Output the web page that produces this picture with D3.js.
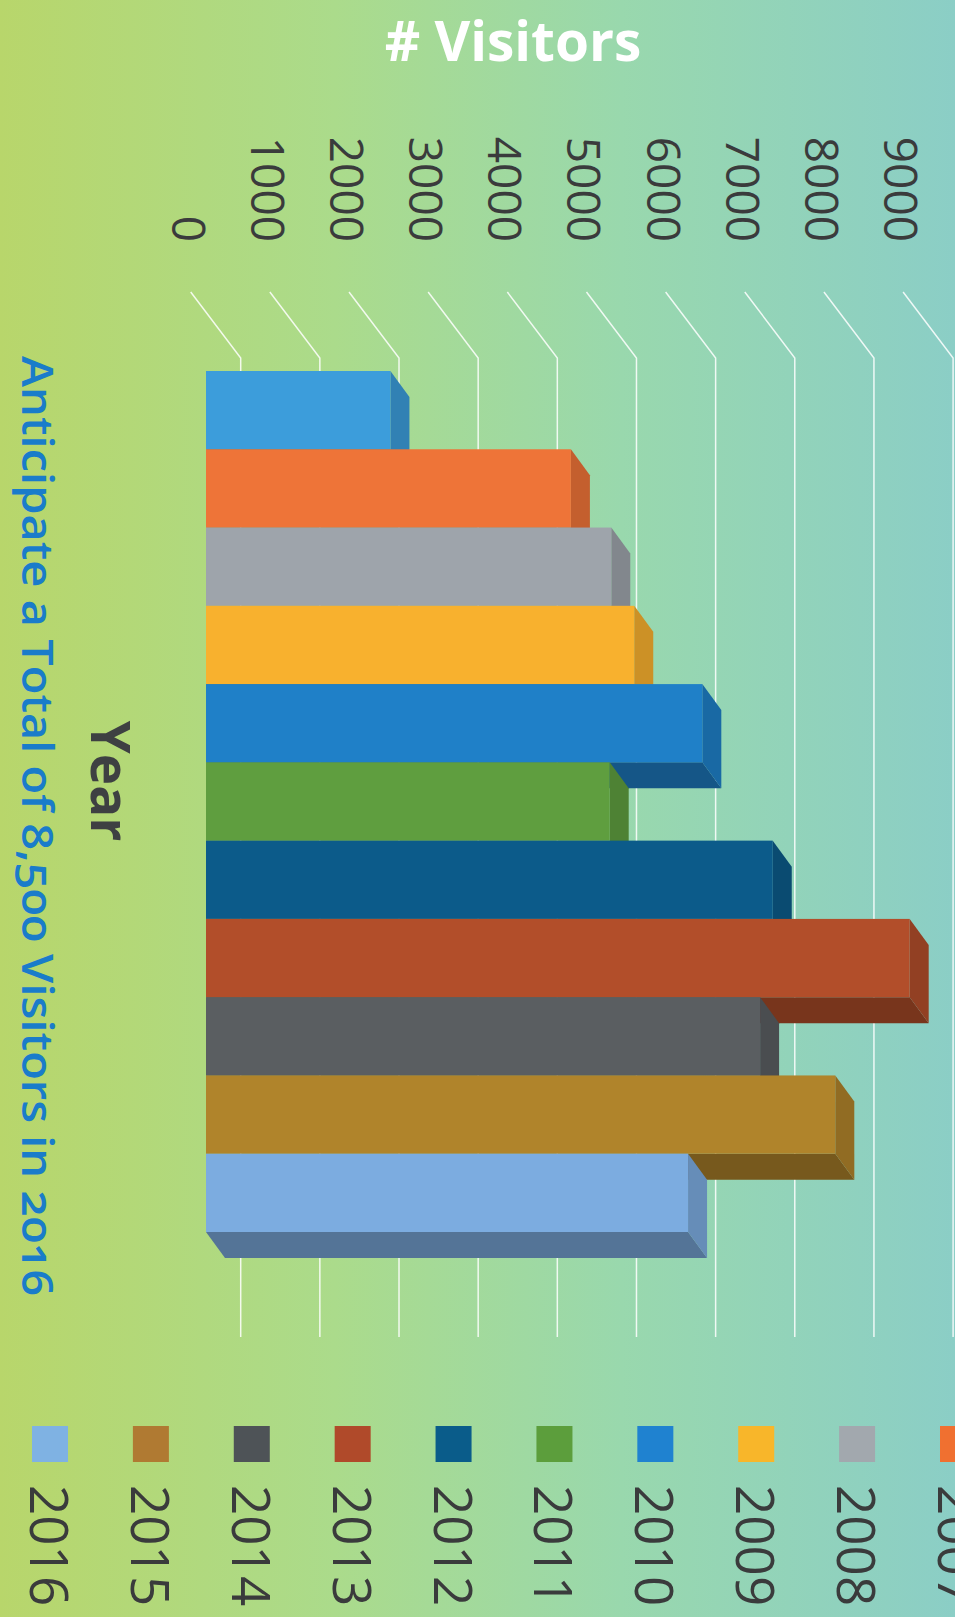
<!DOCTYPE html>
<meta charset="utf-8">
<head>
    <title></title>
    <script src="https://d3js.org/d3.v7.min.js"></script>
</head>

<style>
    body{ margin:0; }
    text{ font-family: "Open Sans", "Noto Sans", sans-serif; }
</style>
<svg width="955" height="1617"></svg>

<script>
    // the chart is printed turned a quarter clockwise, so values run left to right
    var years    = [2006, 2007, 2008, 2009, 2010, 2011, 2012, 2013, 2014, 2015, 2016],
        visitors = [2330, 4610, 5120, 5410, 6270, 5100, 7160, 8890, 7000, 7950, 6090],
        barColors = ['#3c9ddb','#ee7438','#9ea4ab','#f8b12e','#1f80c8','#5f9e3f',
                     '#0c5b8a','#b24e2a','#5a5e61','#b0842b','#7cace0'];

    var tickValues = [0, 1000, 2000, 3000, 4000, 5000, 6000, 7000, 8000, 9000];

    var legendYears  = [2016, 2015, 2014, 2013, 2012, 2011, 2010, 2009, 2008, 2007],
        legendColors = ['#7fb2e3','#b07a32','#4e5357','#b04a2a','#0a5c8a',
                        '#5c9e3c','#1f82d0','#f8b62a','#a2a8ae','#f07030'];

    var svg = d3.select('svg');

    // background wash
    var grad = svg.append('defs').append('linearGradient')
        .attr('id', 'bg').attr('x1', 0).attr('x2', 1).attr('y1', 0).attr('y2', 0);
    grad.append('stop').attr('offset', 0).attr('stop-color', '#b8d66b');
    grad.append('stop').attr('offset', 0.35).attr('stop-color', '#abdb8b');
    grad.append('stop').attr('offset', 0.65).attr('stop-color', '#99d8ad');
    grad.append('stop').attr('offset', 1).attr('stop-color', '#8bcec6');
    svg.append('rect').attr('width', 955).attr('height', 1617).attr('fill', 'url(#bg)');

    // scales: front plane of the floor, bar faces, and the back wall
    var xFront = d3.scaleLinear().domain([0, 9000]).range([190.7, 903.1]),
        xBar   = d3.scaleLinear().domain([0, 9000]).range([206, 918.4]),
        y      = d3.scaleBand().domain(years).range([371, 1232]).padding(0);

    var wallDx = 50, wallDy = 66, wallTop = 292, wallBottom = 1337;
    var depthX = 19, depthY = 26;

    // grid lines
    svg.append('g').selectAll('path').data(tickValues).enter().append('path')
        .attr('d', function(d){
            var x = xFront(d);
            return 'M' + x + ',' + wallTop + 'L' + (x + wallDx) + ',' + (wallTop + wallDy) +
                   'L' + (x + wallDx) + ',' + wallBottom;
        })
        .attr('fill', 'none')
        .style('stroke', 'rgba(255,255,255,0.85)')
        .style('stroke-width', 1.5);

    // tick labels
    svg.append('g').selectAll('text').data(tickValues).enter().append('text')
        .attr('transform', function(d){ return 'translate(' + (xFront(d) - 19) + ',242) rotate(90)'; })
        .attr('text-anchor', 'end')
        .style('font-size', '46px')
        .style('fill', '#3a3b3c')
        .text(function(d){ return d; });

    // 3d bars, drawn top to bottom so each one covers the floor of the one above
    var bars = svg.append('g').selectAll('g').data(years).enter().append('g');

    bars.append('path')
        .attr('d', function(d){
            var x0 = xBar(0), x1 = xBar(visitors[years.indexOf(d)]), yb = y(d) + y.bandwidth();
            return 'M' + x0 + ',' + yb + 'L' + x1 + ',' + yb + 'L' + (x1 + depthX) + ',' + (yb + depthY) +
                   'L' + (x0 + depthX) + ',' + (yb + depthY) + 'Z';
        })
        .style('fill', function(d,i){ return d3.color(barColors[i]).darker(1.1); });

    bars.append('path')
        .attr('d', function(d){
            var x1 = xBar(visitors[years.indexOf(d)]), yt = y(d), yb = yt + y.bandwidth();
            return 'M' + x1 + ',' + yt + 'L' + (x1 + depthX) + ',' + (yt + depthY) +
                   'L' + (x1 + depthX) + ',' + (yb + depthY) + 'L' + x1 + ',' + yb + 'Z';
        })
        .style('fill', function(d,i){ return d3.color(barColors[i]).darker(0.55); });

    bars.append('rect')
        .attr('x', xBar(0))
        .attr('y', function(d){ return y(d); })
        .attr('width', function(d,i){ return xBar(visitors[i]) - xBar(0); })
        .attr('height', y.bandwidth())
        .style('fill', function(d,i){ return barColors[i]; });

    // titles
    svg.append('text')
        .attr('x', 513).attr('y', 61)
        .attr('text-anchor', 'middle')
        .style('font-size', '55px').style('font-weight', 700)
        .style('fill', '#ffffff')
        .text('# Visitors');

    svg.append('text')
        .attr('transform', 'translate(91,781) rotate(90)')
        .attr('text-anchor', 'middle')
        .style('font-size', '53px').style('font-weight', 700)
        .style('fill', '#3e4042')
        .text('Year');

    svg.append('text')
        .attr('transform', 'translate(22,826) rotate(90)')
        .attr('text-anchor', 'middle')
        .attr('textLength', 940)
        .attr('lengthAdjust', 'spacingAndGlyphs')
        .style('font-size', '44px').style('font-weight', 600)
        .style('font-variant-numeric', 'oldstyle-nums')
        .style('fill', '#1a7cca')
        .text('Anticipate a Total of 8,500 Visitors in 2016');

    // legend
    var lx = d3.scalePoint().domain(legendYears).range([50, 958]);

    var legend = svg.append('g').selectAll('g').data(legendYears).enter().append('g');

    legend.append('rect')
        .attr('x', function(d){ return lx(d) - 18; })
        .attr('y', 1426)
        .attr('width', 36).attr('height', 36)
        .style('fill', function(d,i){ return legendColors[i]; });

    legend.append('text')
        .attr('transform', function(d){ return 'translate(' + (lx(d) - 20) + ',1485) rotate(90)'; })
        .style('font-size', '53px')
        .style('fill', '#3a3b3c')
        .text(function(d){ return d; });
</script>
